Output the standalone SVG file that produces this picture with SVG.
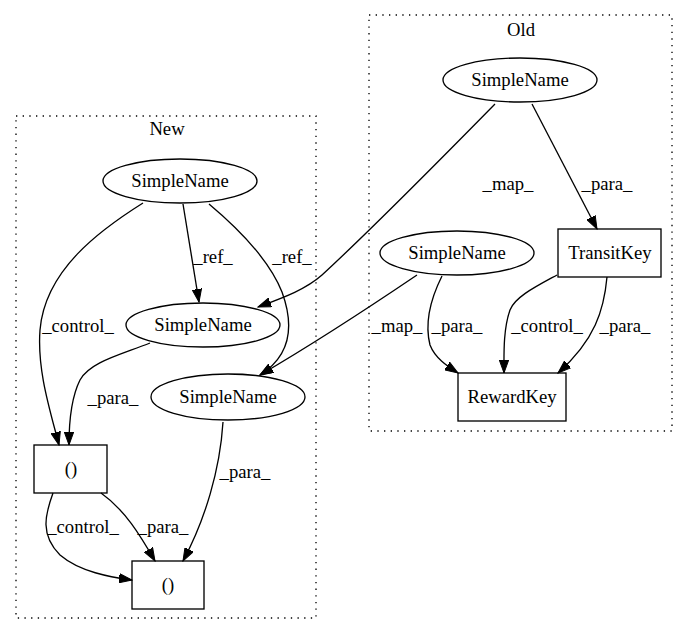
<svg xmlns="http://www.w3.org/2000/svg" width="688" height="636" viewBox="0 0 688 636">
<style>
text{font-family:'Liberation Serif','Times New Roman',serif;font-size:18.67px;fill:#000;text-anchor:middle}
.cl{fill:none;stroke:#000;stroke-width:1.33;stroke-dasharray:1.33,5.33}
.n{fill:none;stroke:#000;stroke-width:1.33}
.e{fill:none;stroke:#000;stroke-width:1.33}
</style>
<defs>
<marker id="ah" markerWidth="14" markerHeight="10" refX="13" refY="5" orient="auto" markerUnits="userSpaceOnUse">
<path d="M0,0.3 L13,5 L0,9.7 Z" fill="#000" stroke="#000" stroke-width="1"/>
</marker>
</defs>
<rect width="688" height="636" fill="#fff"/>
<g font-family="Liberation Serif, Times New Roman, serif">
<g id="cluster_old">
<rect class="cl" x="369" y="15" width="303" height="416"/>
<text x="521" y="36">Old</text>
</g>
<g id="cluster_new">
<rect class="cl" x="16" y="116" width="300" height="502"/>
<text x="167" y="135">New</text>
</g>
<g id="old_simplename1"><ellipse class="n" cx="520" cy="80" rx="77" ry="22"/><text x="520" y="86">SimpleName</text></g>
<g id="old_transitkey"><rect class="n" x="558" y="229" width="103" height="48"/><text x="610" y="259">TransitKey</text></g>
<g id="old_simplename2"><ellipse class="n" cx="457" cy="253" rx="77" ry="22"/><text x="457" y="259">SimpleName</text></g>
<g id="old_rewardkey"><rect class="n" x="458" y="373" width="108" height="48"/><text x="512" y="403">RewardKey</text></g>
<g id="new_simplename1"><ellipse class="n" cx="180" cy="181" rx="77" ry="22"/><text x="180" y="187">SimpleName</text></g>
<g id="new_simplename2"><ellipse class="n" cx="203" cy="325" rx="77" ry="22"/><text x="203" y="331">SimpleName</text></g>
<g id="new_simplename3"><ellipse class="n" cx="228" cy="397" rx="77" ry="23"/><text x="228" y="403">SimpleName</text></g>
<g id="new_call1"><rect class="n" x="34" y="445" width="73" height="48"/><text x="71" y="475">()</text></g>
<g id="new_call2"><rect class="n" x="132" y="561" width="72" height="48"/><text x="168" y="591">()</text></g>
<g id="edges">
<path class="e" marker-end="url(#ah)" d="M495,104 C440,160 360,240 322,275 C305,290 282,298 258,307"/>
<text x="508" y="190">_map_</text>
<path class="e" marker-end="url(#ah)" d="M532,104 L597,229"/>
<text x="607" y="190">_para_</text>
<path class="e" marker-end="url(#ah)" d="M442,276 C430,300 425,325 430,345 C435,358 447,366 458,373"/>
<text x="457" y="332">_para_</text>
<path class="e" marker-end="url(#ah)" d="M417,275 C380,300 320,340 260,375"/>
<text x="397" y="332">_map_</text>
<path class="e" marker-end="url(#ah)" d="M557,275 C535,287 515,297 510,310 C503,330 504,355 504,373"/>
<text x="547" y="332">_control_</text>
<path class="e" marker-end="url(#ah)" d="M607,277 C604,310 595,340 558,373"/>
<text x="625" y="332">_para_</text>
<path class="e" marker-end="url(#ah)" d="M183,204 L199,302"/>
<text x="213" y="263">_ref_</text>
<path class="e" marker-end="url(#ah)" d="M209,204 C240,230 270,262 282,292 C294,325 292,355 260,375"/>
<text x="292" y="263">_ref_</text>
<path class="e" marker-end="url(#ah)" d="M143,203 C100,230 45,270 40,330 C37,370 50,410 59,445"/>
<text x="78" y="332">_control_</text>
<path class="e" marker-end="url(#ah)" d="M150,343 C120,355 90,362 80,380 C70,400 69,425 69,445"/>
<text x="113" y="404">_para_</text>
<path class="e" marker-end="url(#ah)" d="M223,422 C220,470 205,520 183,561"/>
<text x="245" y="478">_para_</text>
<path class="e" marker-end="url(#ah)" d="M53,493 C45,515 40,535 60,555 C80,572 110,577 132,580"/>
<text x="83" y="533">_control_</text>
<path class="e" marker-end="url(#ah)" d="M101,493 C125,510 140,535 155,561"/>
<text x="163" y="533">_para_</text>
</g>
</g>
</svg>
